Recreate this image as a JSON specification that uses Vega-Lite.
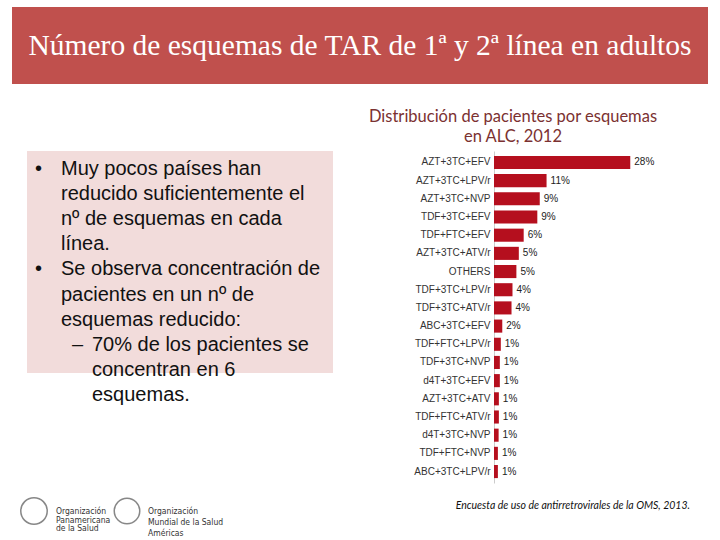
{
  "$schema": "https://vega.github.io/schema/vega-lite/v6.json",
  "background": "white",
  "padding": {"left": 12, "top": 7, "right": 0, "bottom": 0},
  "spacing": 0,
  "config": {"view": {"stroke": null}, "concat": {"spacing": 0}},
  "datasets": {
    "esquemas": [
      {"esquema": "AZT+3TC+EFV", "pct": 0.28},
      {"esquema": "AZT+3TC+LPV/r", "pct": 0.108},
      {"esquema": "AZT+3TC+NVP", "pct": 0.094},
      {"esquema": "TDF+3TC+EFV", "pct": 0.089},
      {"esquema": "TDF+FTC+EFV", "pct": 0.061},
      {"esquema": "AZT+3TC+ATV/r", "pct": 0.051},
      {"esquema": "OTHERS", "pct": 0.046},
      {"esquema": "TDF+3TC+LPV/r", "pct": 0.038},
      {"esquema": "TDF+3TC+ATV/r", "pct": 0.036},
      {"esquema": "ABC+3TC+EFV", "pct": 0.017},
      {"esquema": "TDF+FTC+LPV/r", "pct": 0.014},
      {"esquema": "TDF+3TC+NVP", "pct": 0.012},
      {"esquema": "d4T+3TC+EFV", "pct": 0.012},
      {"esquema": "AZT+3TC+ATV", "pct": 0.010},
      {"esquema": "TDF+FTC+ATV/r", "pct": 0.010},
      {"esquema": "d4T+3TC+NVP", "pct": 0.0095},
      {"esquema": "TDF+FTC+NVP", "pct": 0.008},
      {"esquema": "ABC+3TC+LPV/r", "pct": 0.008}
    ],
    "vinetas": [
      {"linea": 1, "nivel": 1, "marca": "•", "texto": "Muy pocos países han"},
      {"linea": 2, "nivel": 1, "marca": "", "texto": "reducido suficientemente el"},
      {"linea": 3, "nivel": 1, "marca": "", "texto": "nº de esquemas en cada"},
      {"linea": 4, "nivel": 1, "marca": "", "texto": "línea."},
      {"linea": 5, "nivel": 1, "marca": "•", "texto": "Se observa concentración de"},
      {"linea": 6, "nivel": 1, "marca": "", "texto": "pacientes en un nº de"},
      {"linea": 7, "nivel": 1, "marca": "", "texto": "esquemas reducido:"},
      {"linea": 8, "nivel": 2, "marca": "–", "texto": "70% de los pacientes se"},
      {"linea": 9, "nivel": 2, "marca": "", "texto": "concentran en 6"},
      {"linea": 10, "nivel": 2, "marca": "", "texto": "esquemas."}
    ]
  },
  "vconcat": [
    {
      "width": 696, "height": 77,
      "view": {"fill": "#c0504d", "stroke": null},
      "data": {"values": [{"titulo": "Número de esquemas de TAR de 1ª y 2ª línea en adultos"}]},
      "mark": {"type": "text", "font": "Liberation Serif", "fontSize": 29.5, "color": "white", "baseline": "middle", "align": "center"},
      "encoding": {"text": {"field": "titulo", "type": "nominal"}}
    },
    {"width": 10, "height": 24, "data": {"values": []}, "mark": "point"},
    {
      "bounds": "flush",
      "spacing": 0,
      "hconcat": [
        {"width": 15, "height": 10, "data": {"values": []}, "mark": "point"},
        {
          "width": 306, "height": 222,
          "view": {"fill": "#f2dcdb", "stroke": null},
          "data": {"name": "vinetas"},
          "encoding": {
            "y": {"field": "linea", "type": "quantitative", "scale": {"domain": [1, 10], "range": [24, 250], "nice": false, "zero": false}, "axis": null}
          },
          "layer": [
            {
              "mark": {"type": "text", "align": "left", "baseline": "alphabetic", "font": "Liberation Sans", "fontSize": 20, "color": "#111111", "clip": false},
              "encoding": {
                "x": {"field": "nivel", "type": "quantitative", "scale": {"domain": [1, 2], "range": [8, 45], "nice": false, "zero": false}, "axis": null},
                "text": {"field": "marca", "type": "nominal"}
              }
            },
            {
              "mark": {"type": "text", "align": "left", "baseline": "alphabetic", "font": "Liberation Sans", "fontSize": 20, "color": "#111111", "clip": false},
              "encoding": {
                "x": {"field": "nivel", "type": "quantitative", "scale": {"domain": [1, 2], "range": [34, 65], "nice": false, "zero": false}, "axis": null},
                "text": {"field": "texto", "type": "nominal"}
              }
            }
          ],
          "resolve": {"scale": {"x": "independent"}}
        },
        {"width": 161, "height": 10, "data": {"values": []}, "mark": "point"},
        {
          "width": 146, "height": 332,
          "title": {
            "text": ["Distribución de pacientes por esquemas", "en ALC, 2012"],
            "font": "Lato", "fontSize": 16.5, "fontWeight": "normal", "color": "#7b3131",
            "lineHeight": 20, "anchor": "middle", "frame": "group", "dx": -54, "offset": 6
          },
          "data": {"name": "esquemas"},
          "encoding": {
            "y": {
              "field": "esquema", "type": "nominal", "sort": null,
              "scale": {"paddingInner": 0.28, "paddingOuter": 0.27},
              "axis": {"title": null, "ticks": false, "labelPadding": 4, "labelFont": "Liberation Sans", "labelFontSize": 10, "labelColor": "#333333", "domainColor": "#cccccc", "labelLimit": 200}
            },
            "x": {"field": "pct", "type": "quantitative", "scale": {"domain": [0, 0.3], "nice": false}, "axis": null}
          },
          "layer": [
            {"mark": {"type": "bar", "color": "#b50f1e"}},
            {
              "mark": {"type": "text", "align": "left", "baseline": "middle", "dx": 4, "font": "Liberation Sans", "fontSize": 10, "color": "#222222"},
              "encoding": {"text": {"field": "pct", "type": "quantitative", "format": ".0%"}}
            }
          ]
        }
      ]
    },
    {"width": 10, "height": 8, "data": {"values": []}, "mark": "point"},
    {
      "bounds": "flush",
      "spacing": 0,
      "hconcat": [
        {
          "width": 44, "height": 40,
          "data": {"values": [{"logo": "OPS"}]},
          "mark": {"type": "point", "shape": "circle", "size": 700, "filled": false, "stroke": "#555555", "strokeWidth": 1.5}
        },
        {
          "width": 50, "height": 40,
          "data": {"values": [{"texto": ["Organización", "Panamericana", "de la Salud"]}]},
          "mark": {"type": "text", "align": "left", "baseline": "middle", "font": "DejaVu Sans Condensed", "fontSize": 8.5, "lineHeight": 8.5, "color": "#333333"},
          "encoding": {"x": {"value": 0}, "text": {"field": "texto", "type": "nominal"}}
        },
        {
          "width": 42, "height": 40,
          "data": {"values": [{"logo": "OMS"}]},
          "mark": {"type": "point", "shape": "circle", "size": 650, "filled": false, "stroke": "#555555", "strokeWidth": 1.5}
        },
        {
          "width": 60, "height": 40,
          "data": {"values": [{"texto": ["Organización", "Mundial de la Salud", "Américas"]}]},
          "mark": {"type": "text", "align": "left", "baseline": "middle", "font": "DejaVu Sans Condensed", "fontSize": 8.5, "lineHeight": 11, "color": "#333333"},
          "encoding": {"x": {"value": 0}, "text": {"field": "texto", "type": "nominal"}}
        },
        {
          "width": 482, "height": 30,
          "data": {"values": [{"fuente": "Encuesta de uso de antirretrovirales de la OMS, 2013."}]},
          "mark": {"type": "text", "align": "right", "baseline": "middle", "font": "Lato", "fontSize": 10.5, "fontStyle": "italic", "color": "#111111"},
          "encoding": {"x": {"value": "width"}, "text": {"field": "fuente", "type": "nominal"}}
        }
      ]
    }
  ]
}
